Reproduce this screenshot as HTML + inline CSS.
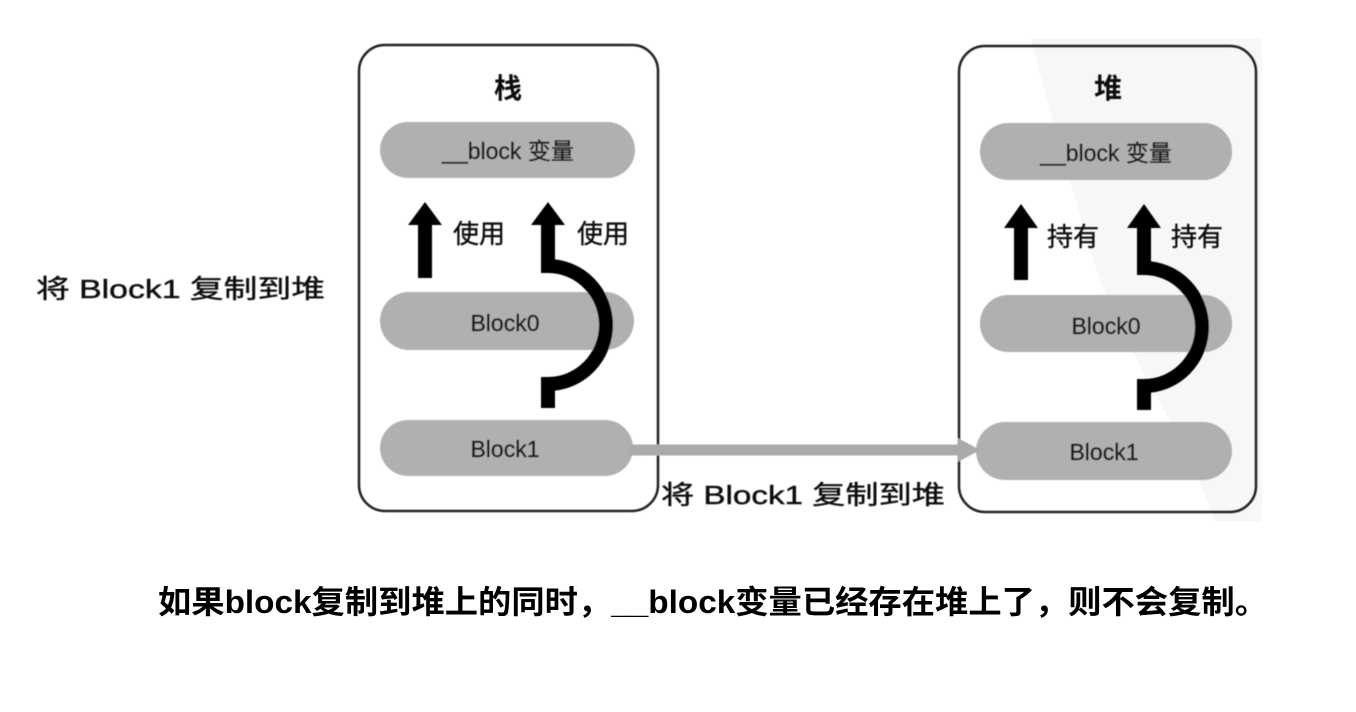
<!DOCTYPE html>
<html><head><meta charset="utf-8"><style>
html,body{margin:0;padding:0;background:#fff;}
svg{display:block}
text{font-family:"Liberation Sans","Noto Sans CJK SC",sans-serif;}
</style></head><body>
<svg width="1356" height="712" viewBox="0 0 1356 712" xmlns="http://www.w3.org/2000/svg">
<defs><filter id="bl"><feGaussianBlur stdDeviation="0.6"/></filter></defs>
<path d="M1030 38 L1262 38 L1262 522 L1215 522 C1180 420 1120 350 1090 250 C1070 180 1050 110 1030 38Z" fill="#f7f7f7"/>
<g filter="url(#bl)">
<rect x="359" y="45" width="299" height="466" rx="26" fill="none" stroke="#222" stroke-width="2.5"/>
<rect x="959" y="46" width="297" height="466" rx="26" fill="none" stroke="#222" stroke-width="2.5"/>
<text x="508" y="98" font-size="28" font-weight="bold" text-anchor="middle" fill="#111">栈</text>
<text x="1108" y="98" font-size="28" font-weight="bold" text-anchor="middle" fill="#111">堆</text>
<rect x="380" y="122" width="255" height="56" rx="28" fill="#b0b0b0"/>
<rect x="380" y="292" width="254" height="58" rx="29" fill="#b0b0b0"/>
<rect x="380" y="420" width="253" height="56" rx="28" fill="#b0b0b0"/>
<rect x="980" y="123" width="252" height="57" rx="28" fill="#b0b0b0"/>
<rect x="980" y="295" width="252" height="57" rx="28" fill="#b0b0b0"/>
<rect x="976" y="422" width="256" height="58" rx="29" fill="#b0b0b0"/>
<g font-size="23" fill="#1a1a1a" stroke="#1a1a1a" stroke-width="0.4" text-anchor="middle">
<text x="508" y="159">__block 变量</text>
<text x="505" y="331">Block0</text>
<text x="505" y="457">Block1</text>
<text x="1106" y="161">__block 变量</text>
<text x="1106" y="334">Block0</text>
<text x="1104" y="460">Block1</text>
</g>
<line x1="628" y1="450" x2="962" y2="450" stroke="#aaa" stroke-width="11"/>
<polygon points="958,438 980,450 958,462" fill="#aaa"/>
<g fill="#000">
<polygon points="425,202 442,225 432,225 432,278 418,278 418,225 408,225"/>
<polygon points="548,202 565,225 555,225 555,266 541,266 541,225 531,225"/>
<polygon points="1021,204 1038,228 1028,228 1028,280 1014,280 1014,228 1004,228"/>
<polygon points="1144,204 1161,228 1151,228 1151,268 1137,268 1137,228 1127,228"/>
</g>
<path d="M548 262 L548 266 A 58 59 0 0 1 548 384 L548 408" fill="none" stroke="#000" stroke-width="14"/>
<path d="M1144 264 L1144 268 A 58 59 0 0 1 1144 386 L1144 410" fill="none" stroke="#000" stroke-width="14"/>
<g font-size="26" fill="#111" stroke="#111" stroke-width="0.4">
<text x="453" y="243">使用</text>
<text x="577" y="243">使用</text>
<text x="1047" y="246">持有</text>
<text x="1171" y="246">持有</text>
<text x="36" y="298" textLength="289" lengthAdjust="spacingAndGlyphs">将 Block1 复制到堆</text>
<text x="661" y="504" textLength="284" lengthAdjust="spacingAndGlyphs">将 Block1 复制到堆</text>
</g>
</g>
<text x="158" y="613" font-size="32" font-weight="bold" fill="#000" textLength="1110" lengthAdjust="spacingAndGlyphs">如果block复制到堆上的同时，__block变量已经存在堆上了，则不会复制。</text>
</svg>
</body></html>
